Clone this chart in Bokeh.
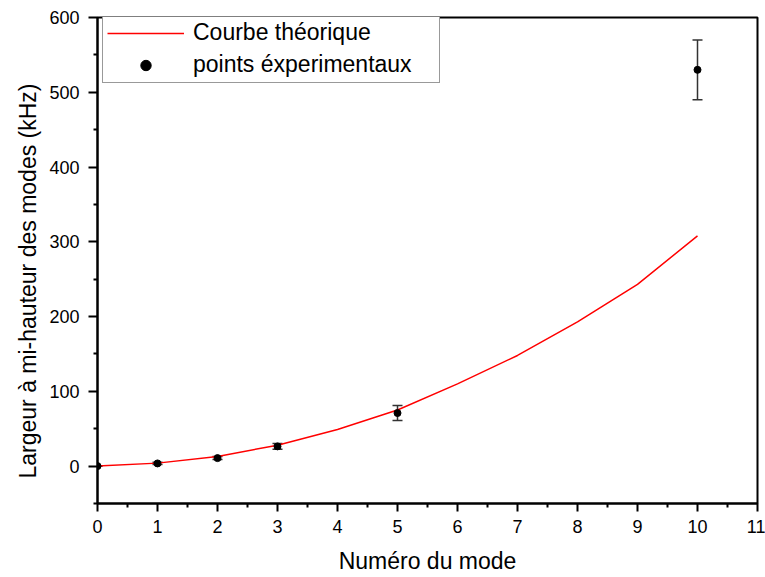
from bokeh.plotting import figure
from bokeh.models import (Range1d, Whisker, ColumnDataSource, Legend, LegendItem,
                          FixedTicker, TeeHead, Title)
from bokeh.embed import file_html
from bokeh.resources import INLINE

# ---- data ----
mode_theory = [0, 1, 2, 3, 4, 5, 6, 7, 8, 9, 10]
width_theory = [0, 4, 13, 28, 49, 75, 110, 148, 193, 243, 308]

mode_exp = [0, 1, 2, 3, 5, 10]
width_exp = [0, 3.6, 10.7, 26.4, 71, 530]
err_exp = [0, 1.5, 2, 4, 10, 40]

x_ticks = [0, 1, 2, 3, 4, 5, 6, 7, 8, 9, 10, 11]
y_ticks = [0, 100, 200, 300, 400, 500, 600]

x_title = "Numéro du mode"
y_title = "Largeur à mi-hauteur des modes (kHz)"

FONT = "Liberation Sans"

p = figure(width=765, height=577, x_range=Range1d(0, 11), y_range=Range1d(-50, 600),
           output_backend="svg", toolbar_location=None,
           min_border_left=97, min_border_right=8, min_border_top=17, min_border_bottom=74)

p.xgrid.visible = False
p.ygrid.visible = False
p.outline_line_color = "black"
p.outline_line_width = 2
p.background_fill_color = "white"
p.border_fill_color = "white"

# axes
p.xaxis.ticker = FixedTicker(ticks=x_ticks,
                             minor_ticks=[t + 0.5 for t in x_ticks[:-1]])
p.yaxis.ticker = FixedTicker(ticks=y_ticks,
                             minor_ticks=[t - 50 for t in y_ticks])
for ax in (p.xaxis[0], p.yaxis[0]):
    ax.axis_line_color = "black"
    ax.axis_line_width = 2
    ax.major_tick_line_color = "black"
    ax.major_tick_line_width = 2
    ax.minor_tick_line_color = "black"
    ax.minor_tick_line_width = 2
    ax.major_tick_in = 0
    ax.minor_tick_in = 0
    ax.minor_tick_out = 4
    ax.major_label_text_font = FONT
    ax.major_label_text_font_size = "18px"
    ax.major_label_text_color = "black"
    ax.axis_label_text_font = FONT
    ax.axis_label_text_font_size = "23px"
    ax.axis_label_text_font_style = "normal"
    ax.axis_label_text_color = "black"

p.xaxis.major_tick_out = 8
p.yaxis.major_tick_out = 9
p.xaxis.axis_label = x_title
p.xaxis.major_label_standoff = 8
p.yaxis.major_label_standoff = 9
p.xaxis.axis_label_standoff = 12

# y-axis title as a side title (sits slightly below the frame centre)
ytitle = Title(text=y_title, align="left", offset=25, standoff=12,
               text_font=FONT, text_font_size="23px", text_font_style="normal",
               text_color="black")
p.add_layout(ytitle, "left")

# theory curve
line = p.line(mode_theory, width_theory, line_color="#ff0000", line_width=1.5)

# experimental points with error bars
src = ColumnDataSource(dict(
    x=mode_exp,
    y=width_exp,
    upper=[v + e for v, e in zip(width_exp, err_exp)],
    lower=[v - e for v, e in zip(width_exp, err_exp)],
))
whisk = Whisker(source=src, base="x", upper="upper", lower="lower",
                line_color="#333333", line_width=1.5,
                upper_head=TeeHead(size=10, line_color="#333333", line_width=1.5),
                lower_head=TeeHead(size=10, line_color="#333333", line_width=1.5))
p.add_layout(whisk)
pts = p.scatter("x", "y", source=src, size=7, marker="circle",
                fill_color="black", line_color="black")

legend = Legend(items=[LegendItem(label="Courbe théorique", renderers=[line]),
                       LegendItem(label="points éxperimentaux", renderers=[pts])],
                location=(5, 420))
legend.label_text_font = FONT
legend.label_text_font_size = "23px"
legend.label_text_color = "black"
legend.glyph_width = 77
legend.glyph_height = 26
legend.label_height = 26
legend.label_standoff = 9
legend.label_width = 242
legend.spacing = 5
legend.padding = 4
legend.margin = 0
legend.border_line_color = "#333333"
legend.border_line_width = 1.5
legend.background_fill_color = "white"
legend.background_fill_alpha = 1
p.add_layout(legend, "center")

open("out.html", "w").write(file_html(p, INLINE))
